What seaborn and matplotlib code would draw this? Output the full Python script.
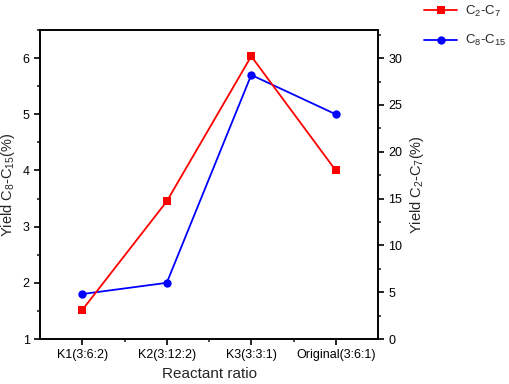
import matplotlib
matplotlib.use("Agg")
import matplotlib.pyplot as plt
import seaborn as sns
import pandas as pd
from matplotlib.ticker import MultipleLocator, FixedLocator
from matplotlib.lines import Line2D

categories = ["K1(3:6:2)", "K2(3:12:2)", "K3(3:3:1)", "Original(3:6:1)"]
c8_c15 = [1.8, 2.0, 5.7, 5.0]
c2_c7 = [3.1, 14.7, 30.2, 18.0]

sns.set_style("ticks")
plt.rcParams['font.family'] = ['Liberation Sans', 'DejaVu Sans']
plt.rcParams['mathtext.fontset'] = 'custom'
plt.rcParams['mathtext.rm'] = 'Liberation Sans'
plt.rcParams['mathtext.it'] = 'Liberation Sans'

df = pd.DataFrame({"x": range(len(categories)), "c8": c8_c15, "c2": c2_c7})

fig = plt.figure(figsize=(5.1, 3.84), dpi=100)
ax = fig.add_axes([40/510, 1-339/384, (378-40)/510, (339-30)/384])
ax2 = ax.twinx()

sns.lineplot(data=df, x="x", y="c8", ax=ax, color="#0000ff", marker="o",
             markersize=6, markeredgewidth=0, linewidth=1.3)
sns.lineplot(data=df, x="x", y="c2", ax=ax2, color="#ff0000", marker="s",
             markersize=6, markeredgewidth=0, linewidth=1.3)

ax.set_xlim(-0.5, 3.5)
ax.set_ylim(1, 6.5)
ax2.set_ylim(0, 33)
ax.set_xticks(range(len(categories)))
ax.set_xticklabels(categories)
ax.xaxis.set_minor_locator(FixedLocator([0.5, 1.5, 2.5]))
ax.yaxis.set_major_locator(MultipleLocator(1))
ax.yaxis.set_minor_locator(MultipleLocator(0.5))
ax2.yaxis.set_major_locator(MultipleLocator(5))
ax2.yaxis.set_minor_locator(MultipleLocator(2.5))

for a in (ax, ax2):
    for s in a.spines.values():
        s.set_visible(True)
        s.set_linewidth(1.2)
        s.set_color("black")
    a.tick_params(which="major", length=4, width=1.2, labelsize=9, colors="black", direction="out")
    a.tick_params(which="minor", length=2.5, width=1.2, direction="out")

ax.set_xlabel("Reactant ratio", fontsize=11)
ax.set_ylabel(r"Yield C$_8$-C$_{15}$(%)", fontsize=10.5, labelpad=4)
ax2.set_ylabel(r"Yield C$_2$-C$_7$(%)", fontsize=10.5, labelpad=4)

handles = [
    Line2D([], [], color="#ff0000", marker="s", markersize=6, markeredgewidth=0, linewidth=1.3),
    Line2D([], [], color="#0000ff", marker="o", markersize=6, markeredgewidth=0, linewidth=1.3),
]
fig.legend(handles, [r"C$_2$-C$_7$", r"C$_8$-C$_{15}$"], loc="upper left",
           bbox_to_anchor=(419/510, 1.004), frameon=False, fontsize=9.5,
           handlelength=2.5, labelspacing=1.1, handletextpad=0.55, borderaxespad=0)

fig.savefig("out.png", dpi=100)
